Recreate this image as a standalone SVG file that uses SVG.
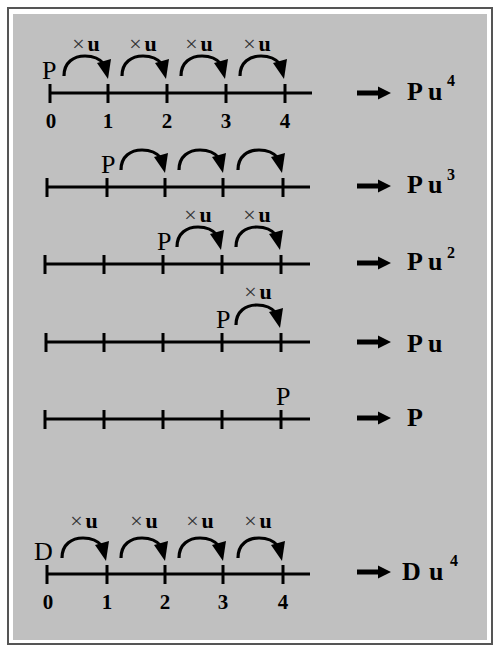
<svg xmlns="http://www.w3.org/2000/svg" xmlns:xlink="http://www.w3.org/1999/xlink" width="497" height="650" viewBox="0 0 497 650">
<style>
.ln{stroke:#000;stroke-width:3;fill:none}
.arc{stroke:#000;stroke-width:3.2;fill:none;stroke-linecap:butt}
.lab{font-family:"Liberation Serif",serif;font-size:26px;fill:#000}
.res{font-family:"Liberation Serif",serif;font-size:26px;font-weight:bold;fill:#000}
.sup{font-size:16px}
.dig{font-family:"Liberation Serif",serif;font-size:21px;font-weight:bold;fill:#000;text-anchor:middle}
.xu{font-family:"Liberation Serif",serif;font-size:22px;text-anchor:middle}
.x{fill:#333}
.u{font-weight:bold;fill:#000}
</style>
<defs>
<g id="jump">
<path class="arc" d="M 14,-17 C 14,-31 24,-37 35,-37 C 44,-37 50,-34 54,-29"/>
<polygon points="47,-30 61,-34 58,-14" fill="#000"/>
</g>
<polygon id="arr" points="357,-2.5 378,-2.5 378,-6.5 391,0 378,6.5 378,2.5 357,2.5" fill="#000"/>
</defs>
<rect x="0" y="0" width="497" height="650" fill="#fff"/>
<rect x="8" y="8" width="484" height="636" fill="#fff" stroke="#555" stroke-width="2"/>
<rect x="13" y="14" width="474" height="626" fill="#c0c0c0"/>

<g id="connectors">
<path class="ln" d="M50,93 H312 M50,84 V103 M108,84 V103 M167,84 V103 M226,84 V103 M285,84 V103"/>
<use xlink:href="#jump" x="50" y="93"/>
<use xlink:href="#jump" x="108" y="93"/>
<use xlink:href="#jump" x="167" y="93"/>
<use xlink:href="#jump" x="226" y="93"/>
<use xlink:href="#arr" x="0" y="93"/>
<path class="ln" d="M47,187 H310 M47,178 V197 M107,178 V197 M165,178 V197 M223,178 V197 M283,178 V197"/>
<use xlink:href="#jump" x="107" y="187"/>
<use xlink:href="#jump" x="165" y="187"/>
<use xlink:href="#jump" x="224" y="187"/>
<use xlink:href="#arr" x="0" y="186"/>
<path class="ln" d="M45,264 H310 M45,255 V274 M104,255 V274 M163,255 V274 M222,255 V274 M281,255 V274"/>
<use xlink:href="#jump" x="163" y="264"/>
<use xlink:href="#jump" x="222" y="264"/>
<use xlink:href="#arr" x="0" y="263"/>
<path class="ln" d="M46,342 H310 M46,333 V352 M104,333 V352 M163,333 V352 M222,333 V352 M281,333 V352"/>
<use xlink:href="#jump" x="222" y="342"/>
<use xlink:href="#arr" x="0" y="342"/>
<path class="ln" d="M45,419 H310 M45,410 V429 M104,410 V429 M163,410 V429 M222,410 V429 M281,410 V429"/>
<use xlink:href="#arr" x="0" y="418"/>
<path class="ln" d="M47,574 H310 M47,565 V584 M107,565 V584 M165,565 V584 M223,565 V584 M283,565 V584"/>
<use xlink:href="#jump" x="48" y="575"/>
<use xlink:href="#jump" x="107" y="575"/>
<use xlink:href="#jump" x="165" y="575"/>
<use xlink:href="#jump" x="224" y="575"/>
<use xlink:href="#arr" x="0" y="572"/>
</g>

<g id="row1">
<text class="lab" x="42" y="79">P</text>
<text class="xu" x="86" y="51"><tspan class="x">×</tspan><tspan class="u" dx="3">u</tspan></text>
<text class="xu" x="143" y="51"><tspan class="x">×</tspan><tspan class="u" dx="3">u</tspan></text>
<text class="xu" x="199" y="51"><tspan class="x">×</tspan><tspan class="u" dx="3">u</tspan></text>
<text class="xu" x="257" y="51"><tspan class="x">×</tspan><tspan class="u" dx="3">u</tspan></text>
<text class="dig" x="51" y="128">0</text>
<text class="dig" x="108" y="128">1</text>
<text class="dig" x="167" y="128">2</text>
<text class="dig" x="226" y="128">3</text>
<text class="dig" x="285" y="128">4</text>
<text class="res" x="407" y="100">P<tspan x="428">u</tspan><tspan class="sup" x="447" y="86">4</tspan></text>
</g>

<g id="row2">
<text class="lab" x="101" y="173">P</text>
<text class="res" x="407" y="193">P<tspan x="428">u</tspan><tspan class="sup" x="447" y="180">3</tspan></text>
</g>

<g id="row3">
<text class="lab" x="157" y="250">P</text>
<text class="xu" x="198" y="222"><tspan class="x">×</tspan><tspan class="u" dx="3">u</tspan></text>
<text class="xu" x="257" y="222"><tspan class="x">×</tspan><tspan class="u" dx="3">u</tspan></text>
<text class="res" x="407" y="270">P<tspan x="428">u</tspan><tspan class="sup" x="447" y="258">2</tspan></text>
</g>

<g id="row4">
<text class="lab" x="216" y="328">P</text>
<text class="xu" x="258" y="299"><tspan class="x">×</tspan><tspan class="u" dx="3">u</tspan></text>
<text class="res" x="407" y="352">P<tspan x="428">u</tspan></text>
</g>

<g id="row5">
<text class="lab" x="276" y="405">P</text>
<text class="res" x="407" y="426">P</text>
</g>

<g id="row6">
<text class="lab" x="34" y="560">D</text>
<text class="xu" x="84" y="528"><tspan class="x">×</tspan><tspan class="u" dx="3">u</tspan></text>
<text class="xu" x="144" y="528"><tspan class="x">×</tspan><tspan class="u" dx="3">u</tspan></text>
<text class="xu" x="200" y="528"><tspan class="x">×</tspan><tspan class="u" dx="3">u</tspan></text>
<text class="xu" x="258" y="528"><tspan class="x">×</tspan><tspan class="u" dx="3">u</tspan></text>
<text class="dig" x="48" y="609">0</text>
<text class="dig" x="107" y="609">1</text>
<text class="dig" x="165" y="609">2</text>
<text class="dig" x="223" y="609">3</text>
<text class="dig" x="283" y="609">4</text>
<text class="res" x="402" y="580">D<tspan x="429">u</tspan><tspan class="sup" x="450" y="566">4</tspan></text>
</g>
</svg>
